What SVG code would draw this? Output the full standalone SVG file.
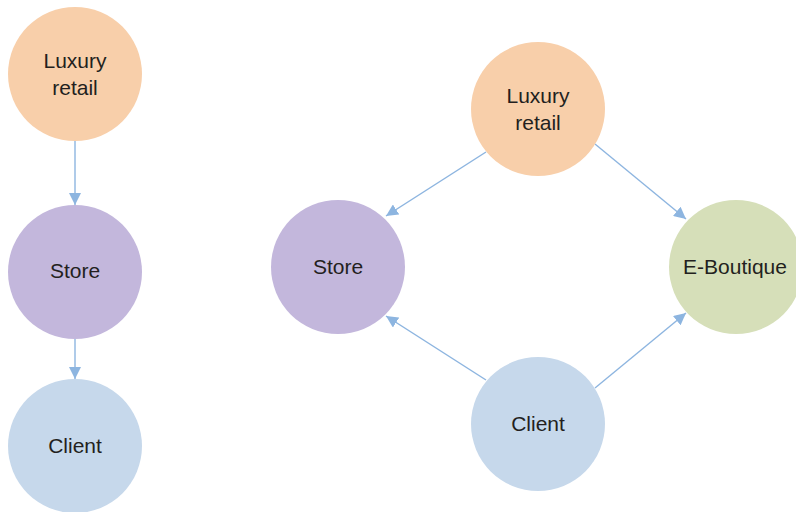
<svg xmlns="http://www.w3.org/2000/svg" width="796" height="512" viewBox="0 0 796 512">
  <style>
    .lbl { font-family: "Liberation Sans", Arial, sans-serif; font-size: 21px; fill: #231F20; text-anchor: middle; }
    .edge { stroke: #8DB5E0; stroke-width: 1.4; fill: none; marker-end: url(#tip); }
    .retail { fill: #F8CFAA; }
    .store { fill: #C3B7DC; }
    .client { fill: #C6D8EB; }
    .eshop { fill: #D6DFB9; }
  </style>
  <defs>
    <marker id="tip" markerUnits="userSpaceOnUse" markerWidth="14" markerHeight="12" refX="12" refY="6" orient="auto">
      <path d="M0,0 L12,6 L0,12 Z" fill="#8DB5E0"/>
    </marker>
  </defs>
  <rect width="796" height="512" fill="#FFFFFF"/>

  <g id="connectors">
    <line class="edge" x1="75" y1="141" x2="75" y2="205"/>
    <line class="edge" x1="75" y1="339" x2="75" y2="379"/>
    <line class="edge" x1="486" y1="152" x2="386" y2="216"/>
    <line class="edge" x1="595" y1="144" x2="686" y2="219"/>
    <line class="edge" x1="486" y1="380" x2="386" y2="316"/>
    <line class="edge" x1="595" y1="388" x2="686" y2="313"/>
  </g>

  <g id="left-retail">
    <circle class="retail" cx="75" cy="74" r="67"/>
    <text class="lbl" x="75" y="68">Luxury</text>
    <text class="lbl" x="75" y="95">retail</text>
  </g>
  <g id="left-store">
    <circle class="store" cx="75" cy="272" r="67"/>
    <text class="lbl" x="75" y="278">Store</text>
  </g>
  <g id="left-client">
    <circle class="client" cx="75" cy="446" r="67"/>
    <text class="lbl" x="75" y="453">Client</text>
  </g>

  <g id="retail">
    <circle class="retail" cx="538" cy="109" r="67"/>
    <text class="lbl" x="538" y="103">Luxury</text>
    <text class="lbl" x="538" y="130">retail</text>
  </g>
  <g id="store">
    <circle class="store" cx="338" cy="267" r="67"/>
    <text class="lbl" x="338" y="274">Store</text>
  </g>
  <g id="eboutique">
    <circle class="eshop" cx="736" cy="267" r="67"/>
    <text class="lbl" x="735" y="274">E-Boutique</text>
  </g>
  <g id="client">
    <circle class="client" cx="538" cy="424" r="67"/>
    <text class="lbl" x="538" y="431">Client</text>
  </g>
</svg>
